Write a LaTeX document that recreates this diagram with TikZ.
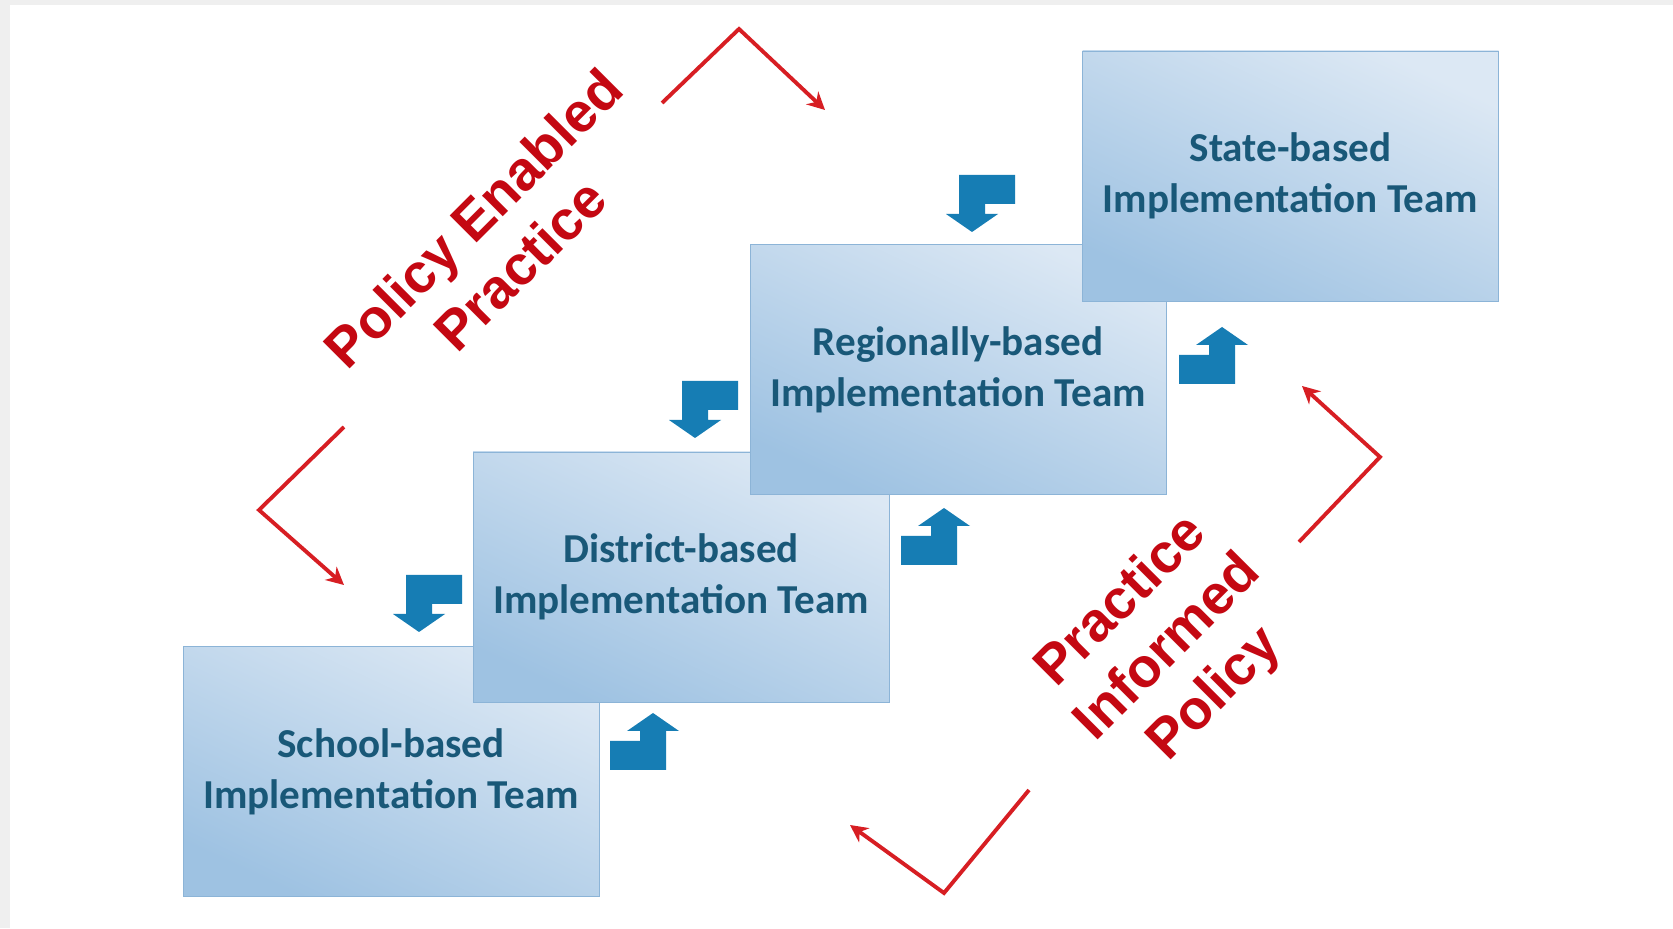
\documentclass[tikz,border=0pt]{standalone}
\usepackage{fontspec}
\setmainfont{Carlito}
\newfontfamily\arialfont{Liberation Sans}
\usetikzlibrary{arrows.meta}
\definecolor{teamtext}{RGB}{25,88,120}
\definecolor{boxlight}{RGB}{220,232,244}
\definecolor{boxdark}{RGB}{158,194,226}
\definecolor{boxline}{RGB}{140,180,215}
\definecolor{stepblue}{RGB}{22,125,180}
\definecolor{loopred}{RGB}{215,30,35}
\definecolor{labelred}{RGB}{196,8,18}
\definecolor{framegray}{RGB}{239,239,239}
\tikzstyle{team} = [rectangle, minimum width=8.32cm, minimum height=5cm, text centered, align=center, draw=boxline, top color=boxlight, bottom color=boxdark, shading angle=-25, text=teamtext, font=\fontsize{23.4}{29}\selectfont\bfseries]
\tikzstyle{loop} = [line width=2.2pt, draw=loopred, -{Stealth[length=10pt, width=10pt]}]
\tikzstyle{looplabel} = [text=labelred, align=center, rotate=45, font=\arialfont\fontsize{31.5}{37.5}\selectfont\bfseries]
\tikzstyle{stairs} = [fill=stepblue]
\tikzset{stepdown/.pic={\fill[stairs] (0,0) -- (0.52,0.36) -- (0.26,0.36) -- (0.26,0.56) -- (0.86,0.56) -- (0.86,1.14) -- (-0.26,1.14) -- (-0.26,0.36) -- (-0.52,0.36) -- cycle;}}

\begin{document}
\begin{tikzpicture}[node distance=6cm]

%Frame
\fill [framegray] (0,0) rectangle (33.46,18.56);
\fill [white] (0.2,0) rectangle (33.46,18.46);

%Boxes
\node (school) [team] at (7.82,3.13) {School-based\\Implementation Team};
\node (district) [team, right of=school, xshift=-0.2cm, yshift=3.89cm] {District-based\\Implementation Team};
\node (regional) [team, right of=district, xshift=-0.46cm, yshift=4.15cm] {Regionally-based\\Implementation Team};
\node (state) [team, right of=regional, xshift=0.65cm, yshift=3.87cm] {State-based\\Implementation Team};

%steps down
\pic at (19.44,13.92) {stepdown};
\pic at (13.90,9.80) {stepdown};
\pic at (8.38,5.92) {stepdown};
%steps up
\pic [rotate=180] at (13.06,4.30) {stepdown};
\pic [rotate=180] at (18.88,8.40) {stepdown};
\pic [rotate=180] at (24.44,12.02) {stepdown};

%Labels
\node (enabled) [looplabel] at (9.93,13.73) {Policy Enabled\\Practice};
\node (informed) [looplabel] at (23.38,5.59) {Practice\\Informed\\Policy};

%arrows
\coordinate (topA) at (13.24,16.50);
\coordinate (topB) at (14.78,17.98);
\coordinate (topC) at (16.50,16.36);
\coordinate (leftA) at (6.88,10.02);
\coordinate (leftB) at (5.18,8.36);
\coordinate (leftC) at (6.88,6.86);
\coordinate (rightA) at (25.98,7.72);
\coordinate (rightB) at (27.60,9.42);
\coordinate (rightC) at (26.04,10.84);
\coordinate (botA) at (20.58,2.76);
\coordinate (botB) at (18.88,0.70);
\coordinate (botC) at (17.00,2.06);
\draw [loop] (topA) -- (topB) -- (topC);
\draw [loop] (leftA) -- (leftB) -- (leftC);
\draw [loop] (rightA) -- (rightB) -- (rightC);
\draw [loop] (botA) -- (botB) -- (botC);

\end{tikzpicture}
\end{document}
